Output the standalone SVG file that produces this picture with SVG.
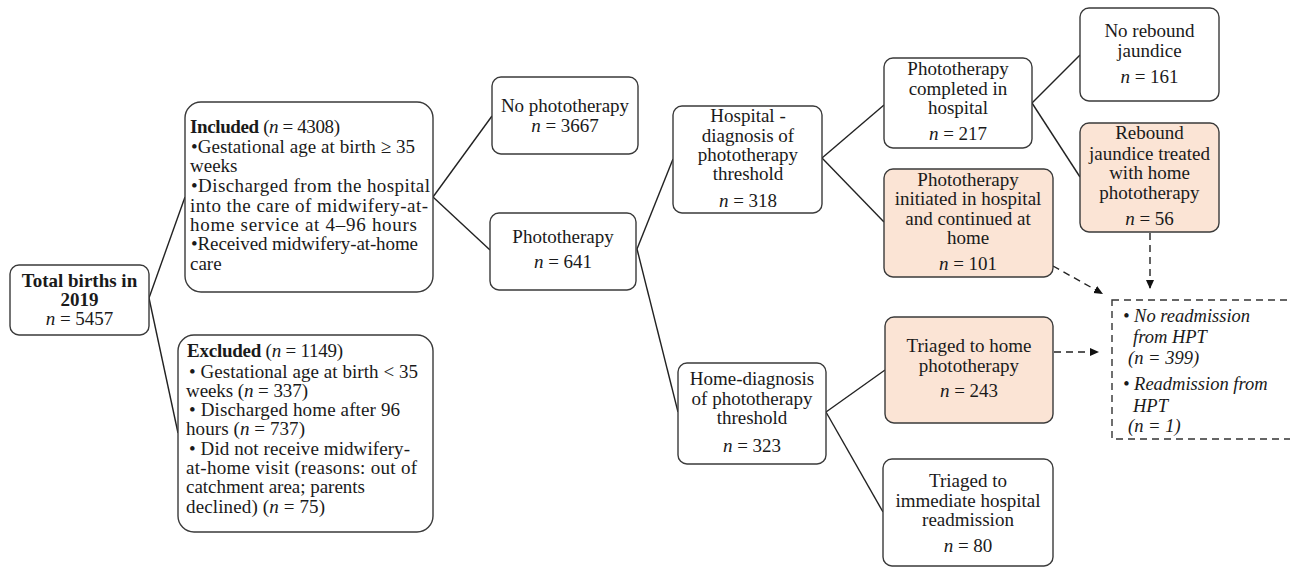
<svg xmlns="http://www.w3.org/2000/svg" width="1290" height="569" viewBox="0 0 1290 569">
<defs>
<style>
.box{fill:#ffffff;stroke:#3a3a3a;stroke-width:1.4}
.pk{fill:#fbe4d5;stroke:#3a3a3a;stroke-width:1.4}
.dbox{fill:#ffffff;stroke:#333;stroke-width:1.4;stroke-dasharray:7 5}
text{font-family:"Liberation Serif","Times New Roman",serif;font-size:19px;fill:#1a1a1a}
.c{text-anchor:middle}
.b{font-weight:bold}
.i{font-style:italic}
.o{font-size:18.5px}
.ln{fill:none;stroke:#222;stroke-width:1.4}
.dl{fill:none;stroke:#222;stroke-width:1.4;stroke-dasharray:7 5}
</style>
<marker id="ah" markerWidth="10" markerHeight="10" refX="9" refY="5" orient="auto" markerUnits="userSpaceOnUse">
<path d="M0,1 L9,5 L0,9 Z" fill="#111"/>
</marker>
</defs>
<rect width="1290" height="569" fill="#ffffff"/>

<g id="connectors">
<path class="ln" d="M149,298 L185,197"/>
<path class="ln" d="M149,298 L178,433"/>
<path class="ln" d="M433,197 L492,116"/>
<path class="ln" d="M433,197 L490,250"/>
<path class="ln" d="M637,249 L673,159"/>
<path class="ln" d="M637,249 L678,412"/>
<path class="ln" d="M822,158 L884,105"/>
<path class="ln" d="M822,158 L884,222"/>
<path class="ln" d="M1032,103 L1080,55"/>
<path class="ln" d="M1032,103 L1080,177"/>
<path class="ln" d="M826,412 L885,370"/>
<path class="ln" d="M826,412 L883,512"/>
<path class="dl" d="M1150,233 L1150,289" marker-end="url(#ah)"/>
<path class="dl" d="M1053,266 L1103,294" marker-end="url(#ah)"/>
<path class="dl" d="M1054,352 L1099,352" marker-end="url(#ah)"/>
</g>

<g id="total">
<rect class="box" x="10" y="265" width="139" height="70" rx="9"/>
<text class="c b" x="79.5" y="287">Total births in</text>
<text class="c b" x="79.5" y="306">2019</text>
<text class="c" x="79.5" y="325"><tspan class="i">n</tspan> = 5457</text>
</g>

<g id="included">
<rect class="box" x="185" y="102" width="248" height="190" rx="16"/>
<text x="190" y="133" textLength="150" lengthAdjust="spacing"><tspan class="b">Included</tspan> (<tspan class="i">n</tspan> = 4308)</text>
<text x="191" y="153" textLength="224" lengthAdjust="spacing">•Gestational age at birth ≥ 35</text>
<text x="190" y="172">weeks</text>
<text x="191" y="192" textLength="239" lengthAdjust="spacing">•Discharged from the hospital</text>
<text x="190" y="212" textLength="238" lengthAdjust="spacing">into the care of midwifery-at-</text>
<text x="190" y="231" textLength="227" lengthAdjust="spacing">home service at 4–96 hours</text>
<text x="191" y="250" textLength="227" lengthAdjust="spacing">•Received midwifery-at-home</text>
<text x="190" y="270">care</text>
</g>

<g id="excluded">
<rect class="box" x="178" y="335" width="255" height="197" rx="16"/>
<text x="187" y="357" textLength="156" lengthAdjust="spacing"><tspan class="b">Excluded</tspan> (<tspan class="i">n</tspan> = 1149)</text>
<text x="189" y="378" textLength="229" lengthAdjust="spacing">• Gestational age at birth &lt; 35</text>
<text x="186" y="397" textLength="122" lengthAdjust="spacing">weeks (<tspan class="i">n</tspan> = 337)</text>
<text x="189" y="416" textLength="211" lengthAdjust="spacing">• Discharged home after 96</text>
<text x="186" y="435" textLength="119" lengthAdjust="spacing">hours (<tspan class="i">n</tspan> = 737)</text>
<text x="189" y="455" textLength="221" lengthAdjust="spacing">• Did not receive midwifery-</text>
<text x="186" y="474" textLength="231" lengthAdjust="spacing">at-home visit (reasons: out of</text>
<text x="186" y="493" textLength="179" lengthAdjust="spacing">catchment area; parents</text>
<text x="186" y="513" textLength="139" lengthAdjust="spacing">declined) (<tspan class="i">n</tspan> = 75)</text>
</g>

<g id="nophoto">
<rect class="box" x="492" y="77" width="146" height="77" rx="9"/>
<text class="c" x="565" y="112">No phototherapy</text>
<text class="c" x="565" y="132"><tspan class="i">n</tspan> = 3667</text>
</g>

<g id="photo">
<rect class="box" x="490" y="213" width="146" height="77" rx="9"/>
<text class="c" x="563" y="243">Phototherapy</text>
<text class="c" x="563" y="268"><tspan class="i">n</tspan> = 641</text>
</g>

<g id="hospdiag">
<rect class="box" x="673" y="106" width="149" height="107" rx="9"/>
<text class="c" x="748" y="122">Hospital -</text>
<text class="c" x="748" y="142">diagnosis of</text>
<text class="c" x="748" y="161">phototherapy</text>
<text class="c" x="748" y="180">threshold</text>
<text class="c" x="748" y="207"><tspan class="i">n</tspan> = 318</text>
</g>

<g id="completed">
<rect class="box" x="884" y="58" width="148" height="90" rx="9"/>
<text class="c" x="958" y="75">Phototherapy</text>
<text class="c" x="958" y="95">completed in</text>
<text class="c" x="958" y="114">hospital</text>
<text class="c" x="958" y="140"><tspan class="i">n</tspan> = 217</text>
</g>

<g id="initiated">
<rect class="pk" x="884" y="169" width="169" height="108" rx="9"/>
<text class="c" x="968" y="186">Phototherapy</text>
<text class="c" x="968" y="205">initiated  in hospital</text>
<text class="c" x="968" y="225">and continued at</text>
<text class="c" x="968" y="244">home</text>
<text class="c" x="968" y="270"><tspan class="i">n</tspan> = 101</text>
</g>

<g id="norebound">
<rect class="box" x="1080" y="8" width="139" height="93" rx="9"/>
<text class="c" x="1149.5" y="37">No rebound</text>
<text class="c" x="1149.5" y="57">jaundice</text>
<text class="c" x="1149.5" y="83"><tspan class="i">n</tspan> = 161</text>
</g>

<g id="rebound">
<rect class="pk" x="1080" y="123" width="139" height="109" rx="9"/>
<text class="c" x="1149.5" y="139">Rebound</text>
<text class="c" x="1149.5" y="160">jaundice treated</text>
<text class="c" x="1149.5" y="179">with home</text>
<text class="c" x="1149.5" y="199">phototherapy</text>
<text class="c" x="1149.5" y="225"><tspan class="i">n</tspan> = 56</text>
</g>

<g id="homediag">
<rect class="box" x="678" y="363" width="148" height="101" rx="9"/>
<text class="c" x="752" y="385">Home-diagnosis</text>
<text class="c" x="752" y="405">of phototherapy</text>
<text class="c" x="752" y="424">threshold</text>
<text class="c" x="752" y="452"><tspan class="i">n</tspan> = 323</text>
</g>

<g id="triagedhome">
<rect class="pk" x="885" y="317" width="168" height="106" rx="9"/>
<text class="c" x="969" y="352">Triaged to home</text>
<text class="c" x="969" y="372">phototherapy</text>
<text class="c" x="969" y="397"><tspan class="i">n</tspan> = 243</text>
</g>

<g id="triagedimm">
<rect class="box" x="883" y="459" width="170" height="107" rx="9"/>
<text class="c" x="968" y="487">Triaged to</text>
<text class="c" x="968" y="507">immediate  hospital</text>
<text class="c" x="968" y="526">readmission</text>
<text class="c" x="968" y="552"><tspan class="i">n</tspan> = 80</text>
</g>

<g id="outcome">
<rect class="dbox" x="1112" y="300" width="200" height="139"/>
<text class="i o" x="1123" y="322">• No readmission</text>
<text class="i o" x="1133" y="343">from HPT</text>
<text class="i o" x="1128" y="364">(n = 399)</text>
<text class="i o" x="1123" y="390">• Readmission from</text>
<text class="i o" x="1133" y="412">HPT</text>
<text class="i o" x="1128" y="432">(n = 1)</text>
</g>
</svg>
